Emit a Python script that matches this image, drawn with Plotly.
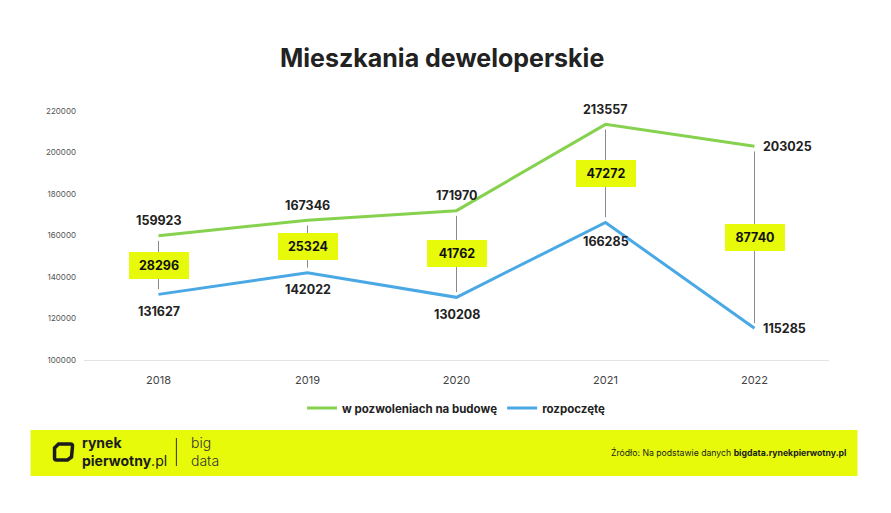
import plotly.graph_objects as go

years = ["2018", "2019", "2020", "2021", "2022"]
permits = [159923, 167346, 171970, 213557, 203025]
started = [131627, 142022, 130208, 166285, 115285]
y_ticks = [100000, 120000, 140000, 160000, 180000, 200000, 220000]

GREEN = "#86D24E"
BLUE = "#4AA8E4"
YELLOW = "#E6FA0A"
DARK = "#222222"
FONT = "Inter, Lato, sans-serif"

idx = list(range(len(years)))

fig = go.Figure()
fig.add_trace(go.Scatter(x=idx, y=permits, name="w pozwoleniach na budowę",
                         mode="lines", line=dict(color=GREEN, width=3)))
fig.add_trace(go.Scatter(x=idx, y=started, name="rozpoczętę",
                         mode="lines", line=dict(color=BLUE, width=3)))

last = len(years) - 1
for i, a, b in zip(idx, permits, started):
    # connector
    fig.add_shape(type="line", xref="x", yref="y", x0=i, x1=i,
                  y0=a - 2500, y1=b + 2500, line=dict(color="#8a8a8a", width=1),
                  layer="below")
    # difference box
    fig.add_annotation(x=i, y=(a + b) / 2, xref="x", yref="y",
                       text=f"<b>{a - b}</b>", showarrow=False,
                       bgcolor=YELLOW, borderpad=5, borderwidth=0, width=50, height=17,
                       font=dict(family=FONT, size=12.5, color="#111111"))
    # value labels
    if i == last:
        fig.add_annotation(x=i, y=a, xref="x", yref="y", text=f"<b>{a}</b>",
                           showarrow=False, xanchor="left", yanchor="middle", xshift=6,
                           font=dict(family=FONT, size=12.5, color=DARK))
        fig.add_annotation(x=i, y=b, xref="x", yref="y", text=f"<b>{b}</b>",
                           showarrow=False, xanchor="left", yanchor="middle", xshift=6,
                           font=dict(family=FONT, size=12.5, color=DARK))
    else:
        fig.add_annotation(x=i, y=a, xref="x", yref="y", text=f"<b>{a}</b>",
                           showarrow=False, xanchor="center", yanchor="middle", yshift=15,
                           font=dict(family=FONT, size=12.5, color=DARK))
        fig.add_annotation(x=i, y=b, xref="x", yref="y", text=f"<b>{b}</b>",
                           showarrow=False, xanchor="center", yanchor="middle",
                           yshift=-19 if i == 3 else -17,
                           font=dict(family=FONT, size=12.5, color=DARK))


def px(x):
    return (x - 83.5) / 746


def py(y):
    return (360 - y) / 249


# title
fig.add_annotation(text="<b>Mieszkania deweloperskie</b>", xref="paper", yref="paper",
                   x=px(442), y=py(58), xanchor="center", yanchor="middle",
                   showarrow=False, font=dict(family=FONT, size=25, color="#222222"))

# footer band
fig.add_shape(type="rect", xref="paper", yref="paper", x0=px(30), x1=px(858),
              y0=py(476), y1=py(430), fillcolor=YELLOW, line=dict(width=0), layer="below")
fig.add_shape(type="path", xref="paper", yref="paper",
              path=(f"M {px(58)},{py(444)} L {px(70)},{py(444)} Q {px(72)},{py(444)} {px(72)},{py(446)} "
                    f"L {px(71)},{py(457)} L {px(67)},{py(460)} "
                    f"L {px(56)},{py(460)} Q {px(54)},{py(460)} {px(54)},{py(458)} L {px(54)},{py(448)} Z"),
              line=dict(color="#1c1c1c", width=3.5), fillcolor="rgba(0,0,0,0)")
fig.add_shape(type="line", xref="paper", yref="paper", x0=px(176), x1=px(176),
              y0=py(466), y1=py(438), line=dict(color="#333333", width=1))
fig.add_annotation(text="<b>rynek</b><br><b>pierwotny</b>.pl", xref="paper", yref="paper",
                   x=px(79), y=py(451), xanchor="left", yanchor="middle", align="left",
                   showarrow=False, font=dict(family=FONT, size=14, color="#1c1c1c"))
fig.add_annotation(text="big<br>data", xref="paper", yref="paper",
                   x=px(189), y=py(451), xanchor="left", yanchor="middle", align="left",
                   showarrow=False, font=dict(family=FONT, size=14, color="#333333", weight=300))
fig.add_annotation(text="Źródło: Na podstawie danych <b>bigdata.rynekpierwotny.pl</b>",
                   xref="paper", yref="paper", x=px(849), y=py(452),
                   xanchor="right", yanchor="middle", showarrow=False,
                   font=dict(family=FONT, size=8.7, color="#1c1c1c"))

fig.update_layout(
    width=891, height=513,
    margin=dict(l=83.5, r=61.5, t=111, b=153),
    paper_bgcolor="white", plot_bgcolor="white",
    showlegend=True,
    legend=dict(orientation="h", x=0.5, xanchor="center", y=py(408), yanchor="middle",
                font=dict(family=FONT, size=11.5, color=DARK, weight=700),
                itemwidth=30, tracegroupgap=0),
    xaxis=dict(range=[-0.5, 4.5], tickvals=idx, ticktext=years, showgrid=False,
               zeroline=False, showline=True,
               linecolor="#e3e3e3", linewidth=1, ticks="", ticklabelstandoff=10,
               tickfont=dict(family=FONT, size=11, color="#444444"), fixedrange=True),
    yaxis=dict(range=[100000, 220000], tickvals=y_ticks, tickformat="d", showgrid=False,
               zeroline=False, showline=False, ticklabelstandoff=7,
               tickfont=dict(family=FONT, size=8, color="#555555"), fixedrange=True),
)

fig.write_html("out.html")
